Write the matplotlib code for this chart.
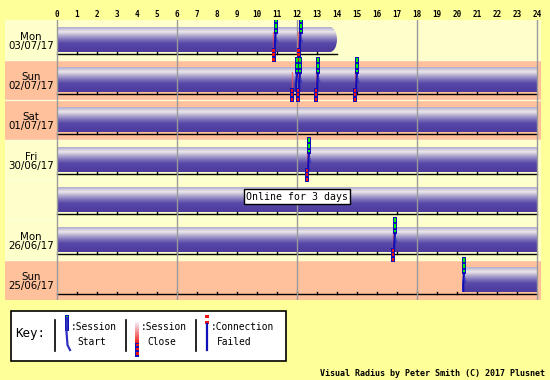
import matplotlib
matplotlib.use('Agg')
import matplotlib.pyplot as plt
import numpy as np
from matplotlib.colors import LinearSegmentedColormap
from matplotlib.patches import Rectangle, Ellipse

# rows, top to bottom
row_days = ['Mon', 'Sun', 'Sat', 'Fri', '', 'Mon', 'Sun']
row_dates = ['03/07/17', '02/07/17', '01/07/17', '30/06/17', '', '26/06/17', '25/06/17']
row_weekend = [False, True, True, False, False, False, True]
# online spans (hours)
online_start = [0.0, 0.0, 0.0, 0.0, 0.0, 0.0, 20.3]
online_end = [14.0, 24.0, 24.0, 24.0, 24.0, 24.0, 24.0]
# hour ruler end per row
ruler_end = [14.0, 24, 24, 24, 24, 24, 24]
# session events (hours)
session_starts = [[10.93, 12.18], [12.0, 12.15, 13.05, 15.0], [], [12.6], [], [16.9], [20.35]]
session_closes = [[10.83, 12.08], [11.75, 12.05, 12.95, 14.9], [], [12.5], [], [16.8], []]
gap_row = 4
gap_text = 'Online for 3 days'
hours = list(range(25))

BG = '#FFFF99'
LIGHT = '#FFFFCC'
SALMON = '#FFC09C'
BLUE = '#1010B8'
GREEN = '#00F000'
RED = '#F01010'
MONO = 'DejaVu Sans Mono'

bar_cmap = LinearSegmentedColormap.from_list('bar', [
    (0.0, '#B0ACD0'), (0.18, '#ECE8E8'), (0.45, '#8C82C0'),
    (0.65, '#5848A8'), (1.0, '#4C3A9C')])
grad = np.linspace(0, 1, 64).reshape(-1, 1)

fig = plt.figure(figsize=(5.5, 3.8), dpi=100)
fig.patch.set_facecolor(BG)

ax = fig.add_axes([5 / 550, 80 / 380, 536 / 550, 280 / 380])
ax.set_facecolor(BG)

BAR_TOP, BAR_BOT = 0.175, 0.8
RULER_Y = 0.86

for r in range(len(row_days)):
    c = SALMON if row_weekend[r] else LIGHT
    ax.add_patch(Rectangle((-2.6, r), 26.8, 1, facecolor=c, edgecolor='none', zorder=0))

    # online bar
    x0, x1 = online_start[r], online_end[r]
    if x1 < 24:
        cap = 0.35
        ax.imshow(grad, cmap=bar_cmap, aspect='auto', interpolation='bilinear',
                  extent=(x0, x1 - cap, r + BAR_BOT, r + BAR_TOP), zorder=2)
        im = ax.imshow(grad, cmap=bar_cmap, aspect='auto', interpolation='bilinear',
                       extent=(x1 - cap - 0.05, x1, r + BAR_BOT, r + BAR_TOP), zorder=2)
        ell = Ellipse((x1 - cap, r + (BAR_TOP + BAR_BOT) / 2), 2 * cap,
                      BAR_BOT - BAR_TOP, transform=ax.transData)
        im.set_clip_path(ell)
    else:
        ax.imshow(grad, cmap=bar_cmap, aspect='auto', interpolation='bilinear',
                  extent=(x0, x1, r + BAR_BOT, r + BAR_TOP), zorder=2)

    # hour ruler
    re = ruler_end[r]
    ax.plot([0, re], [r + RULER_Y, r + RULER_Y], color='black', lw=1, zorder=3)
    for h in hours[1:]:
        if h < re:
            ax.plot([h, h], [r + RULER_Y, r + RULER_Y - 0.06], color='black', lw=1, zorder=3)

    # labels
    if row_days[r]:
        ax.text(-1.3, r + 0.43, row_days[r], ha='center', va='center', fontsize=7.4)
        ax.text(-1.3, r + 0.66, row_dates[r], ha='center', va='center', fontsize=7.4)

    # session close markers
    for t in session_closes[r]:
        ax.plot([t - 0.02, t - 0.02], [r + 0.3, r + 0.7], color='#FF5050', lw=1, alpha=0.7, zorder=4)
        ax.add_patch(Rectangle((t - 0.1, r + 0.69), 0.2, 0.36, facecolor=BLUE,
                               edgecolor='none', zorder=5))
        for y0, y1 in [(0.72, 0.79), (0.83, 0.9), (0.94, 1.02)]:
            ax.add_patch(Rectangle((t - 0.06, r + y0), 0.12, y1 - y0, facecolor=RED,
                                   edgecolor='none', zorder=6))

    # session start markers
    for t in session_starts[r]:
        ax.plot([t, t - 0.04, t - 0.04], [r + 0.3, r + 0.6, r + BAR_BOT],
                color=BLUE, lw=1.6, zorder=5, solid_capstyle='butt')
        ax.plot([t + 0.02, t + 0.08], [r + 0.45, r + 0.55], color='#3030C0', lw=1.2,
                alpha=0.7, zorder=5)
        ax.add_patch(Rectangle((t - 0.1, r - 0.08), 0.2, 0.42, facecolor=BLUE,
                               edgecolor='none', zorder=5))
        for y0, y1 in [(-0.05, 0.04), (0.1, 0.2), (0.25, 0.29)]:
            ax.add_patch(Rectangle((t - 0.05, r + y0), 0.1, y1 - y0, facecolor=GREEN,
                                   edgecolor='none', zorder=6))

# row separators
for r in range(1, len(row_days)):
    ax.plot([-2.6, 24.2], [r, r], color='#FFFFD8', lw=1, zorder=1)

# 6-hour grid
for h in [0, 6, 12, 18, 24]:
    ax.plot([h, h], [0, len(row_days)], color='#9A9A9A', lw=1, zorder=3.5)

ax.text(12, gap_row + 0.42, gap_text, ha='center', va='center', fontsize=7.1,
        family=MONO, zorder=7,
        bbox=dict(boxstyle='square,pad=0.25', facecolor='white', edgecolor='black', lw=1))

ax.set_xlim(-2.6, 24.2)
ax.set_ylim(len(row_days), 0)
for s in ax.spines.values():
    s.set_visible(False)
ax.set_xticks(hours)
ax.set_xticklabels([str(h) for h in hours], family=MONO, fontsize=5.5, fontweight='bold')
ax.set_yticks([])
ax.tick_params(axis='x', bottom=False, top=False, labelbottom=False, labeltop=True,
               length=0, pad=1)

# key and footer (pixel coordinates)
kx = fig.add_axes([0, 0, 1, 1])
kx.set_xlim(0, 550)
kx.set_ylim(380, 0)
kx.axis('off')
kx.patch.set_alpha(0)

kx.add_patch(Rectangle((10.5, 310.5), 275, 50, facecolor='white', edgecolor='black', lw=1.2))
kx.text(15, 334, 'Key:', family=MONO, fontsize=9, va='center', ha='left')
for sx in [55, 125.5, 195.5]:
    kx.plot([sx, sx], [320, 351], color='black', lw=1.2)

# start icon
kx.plot([67, 66.5, 67.5, 70], [318, 332, 345, 350], color='#3030C0', lw=1.6)
kx.add_patch(Rectangle((65, 315), 4, 16, facecolor=BLUE, edgecolor='none'))
kx.add_patch(Rectangle((66, 316), 2, 3, facecolor=GREEN, edgecolor='none'))
kx.add_patch(Rectangle((66, 322.5), 2, 3, facecolor=GREEN, edgecolor='none'))
kx.text(71, 327, ':Session', family=MONO, fontsize=6.9, va='center')
kx.text(77, 342, 'Start', family=MONO, fontsize=6.9, va='center')

# close icon
close_grad = np.linspace(0, 1, 32).reshape(-1, 1)
kx.imshow(close_grad, cmap=LinearSegmentedColormap.from_list('cl', ['#F4F0F8', '#F02020']),
          aspect='auto', extent=(135, 139, 343, 322), interpolation='bilinear', zorder=3)
kx.add_patch(Rectangle((135, 343), 4, 14, facecolor=BLUE, edgecolor='none', zorder=3))
for yy in [343.5, 347.5, 352]:
    kx.add_patch(Rectangle((135.5, yy), 3, 2.5, facecolor=RED, edgecolor='none', zorder=4))
kx.text(141, 327, ':Session', family=MONO, fontsize=6.9, va='center')
kx.text(147, 342, 'Close', family=MONO, fontsize=6.9, va='center')

# failed icon
kx.add_patch(Rectangle((205, 315), 4, 2.5, facecolor=RED, edgecolor='none'))
kx.add_patch(Rectangle((205, 321), 4, 2.5, facecolor=RED, edgecolor='none'))
kx.plot([207, 207], [324, 350], color=BLUE, lw=1.6)
kx.text(211, 327, ':Connection', family=MONO, fontsize=6.9, va='center')
kx.text(217, 342, 'Failed', family=MONO, fontsize=6.9, va='center')

kx.set_xlim(0, 550)
kx.set_ylim(380, 0)

kx.text(545, 374, 'Visual Radius by Peter Smith (C) 2017 Plusnet', family=MONO,
        fontsize=6, fontweight='bold', ha='right', va='center')

fig.savefig('out.png', dpi=100, facecolor=BG)
